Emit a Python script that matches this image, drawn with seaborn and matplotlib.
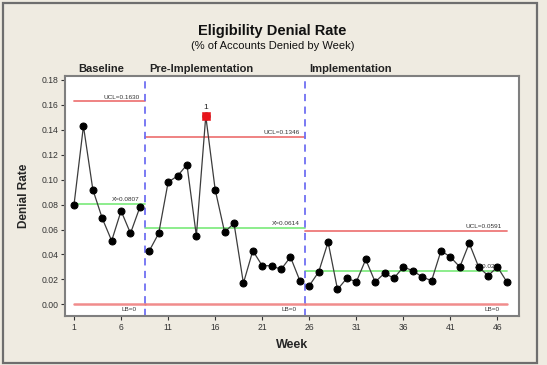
import numpy as np
import pandas as pd
import matplotlib
matplotlib.use("Agg")
import matplotlib.pyplot as plt
import matplotlib.transforms as mtransforms
from matplotlib.patches import Rectangle
import seaborn as sns

# ------------------------------------------------
# Data
# ------------------------------------------------
phase_names = ["Baseline", "Pre-Implementation", "Implementation"]
baseline_rate = [0.080, 0.143, 0.092, 0.069, 0.051, 0.075, 0.057, 0.078]
pre_rate = [0.043, 0.057, 0.098, 0.103, 0.112, 0.055, 0.151, 0.092, 0.058,
            0.065, 0.017, 0.043, 0.031, 0.031, 0.028, 0.038, 0.019]
impl_rate = [0.015, 0.026, 0.050, 0.012, 0.021, 0.018, 0.036, 0.018, 0.025,
             0.021, 0.030, 0.027, 0.022, 0.019, 0.043, 0.038, 0.030, 0.049,
             0.030, 0.023, 0.030, 0.018]
ucl_values = [0.1630, 0.1346, 0.0591]
mean_values = [0.0807, 0.0614, 0.0271]
lcl_values = [0, 0, 0]
flagged_week = 15
x_ticks = [1, 6, 11, 16, 21, 26, 31, 36, 41, 46]
y_ticks = [0.00, 0.02, 0.04, 0.06, 0.08, 0.10, 0.12, 0.14, 0.16, 0.18]

rates = [baseline_rate, pre_rate, impl_rate]
rows = []
wk = 1
for name, serie in zip(phase_names, rates):
    for v in serie:
        rows.append({"week": wk, "rate": v, "phase": name})
        wk += 1
df = pd.DataFrame(rows)

# ------------------------------------------------
# Style
# ------------------------------------------------
sns.set_theme(style="white")
plt.rcParams["font.family"] = ["Liberation Sans", "DejaVu Sans"]

BG = "#EFEBE1"
RED = "#EE7878"
GREEN = "#84EC84"
BLUE = "#6F70F2"

fig = plt.figure(figsize=(5.47, 3.65), dpi=100, facecolor=BG)
ax = fig.add_axes([0.119, 0.135, 0.830, 0.658])
ax.set_facecolor("white")

# outer frame
fig.patches.append(Rectangle((0.006, 0.006), 0.975, 0.985, transform=fig.transFigure,
                             fill=False, edgecolor="#6E6E6E", linewidth=1.6))

# phase edges
counts = [len(r) for r in rates]
edges = [1]
acc = 0
for c in counts:
    acc += c
    edges.append(acc + 0.5)
edges[-1] = acc
starts, ends = edges[:-1], edges[1:]

lab_kw = dict(fontsize=4.6, color="#333333")
for i in range(3):
    s, e = starts[i], ends[i]
    ax.plot([s, e], [ucl_values[i]] * 2, color=RED, lw=1.3, zorder=1)
    ax.plot([s, e], [mean_values[i]] * 2, color=GREEN, lw=1.3, zorder=1)
    ax.plot([s, e], [lcl_values[i]] * 2, color=RED, lw=1.8, alpha=0.85, zorder=1)
    ax.text(e - 0.5, ucl_values[i] + 0.0012, f"UCL={ucl_values[i]:.4f}", ha="right", va="bottom", **lab_kw)
    ax.text(e - 0.5, mean_values[i] + 0.0012, f"X\u0304={mean_values[i]:.4f}", ha="right", va="bottom", **lab_kw)
    ax.text(e - 0.8, lcl_values[i] - 0.0022, f"LB={lcl_values[i]}", ha="right", va="top", **lab_kw)

for b in edges[1:-1]:
    ax.axvline(b, color=BLUE, lw=1.3, dashes=(4, 3), zorder=2)

# points and lines per phase
for name in phase_names:
    sub = df[df["phase"] == name]
    sns.lineplot(data=sub, x="week", y="rate", ax=ax, color="#3C3C3C", lw=0.9,
                 marker="o", markersize=5, markerfacecolor="black",
                 markeredgecolor="black", zorder=3)

flag = df[df["week"] == flagged_week]
sns.scatterplot(data=flag, x="week", y="rate", ax=ax, marker="s", s=26,
                color="#E8141B", edgecolor="#E8141B", zorder=4)
ax.text(flagged_week, flag["rate"].iloc[0] + 0.004, "1", ha="center", va="bottom",
        fontsize=6, color="#222222")

# phase labels
trans = mtransforms.blended_transform_factory(ax.transData, ax.transAxes)
for i, name in enumerate(phase_names):
    ax.text(starts[i] + 0.5, 1.008, name,
            transform=trans, ha="left", va="bottom", fontsize=8, fontweight="bold",
            color="#222222")

ax.set_xlim(0.05, 48.3)
ax.set_ylim(-0.0091, 0.1835)
ax.set_xticks(x_ticks)
ax.set_yticks(y_ticks)
ax.set_yticklabels([f"{v:.2f}" for v in y_ticks])
ax.tick_params(axis="both", labelsize=6.2, colors="#333333", length=3, width=0.8,
               direction="out", bottom=True, left=True, pad=2)
for sp in ax.spines.values():
    sp.set_color("#7F7F7F")
    sp.set_linewidth(1.5)

ax.set_xlabel("Week", fontsize=9, fontweight="bold", labelpad=5)
ax.set_ylabel("Denial Rate", fontsize=8.5, fontweight="bold", labelpad=8)

fig.text(0.498, 0.916, "Eligibility Denial Rate", ha="center", va="center",
         fontsize=10.5, fontweight="bold", color="#111111")
fig.text(0.498, 0.874, "(% of Accounts Denied by Week)", ha="center", va="center",
         fontsize=8, color="#111111")

fig.savefig("out.png", dpi=100, facecolor=BG)
